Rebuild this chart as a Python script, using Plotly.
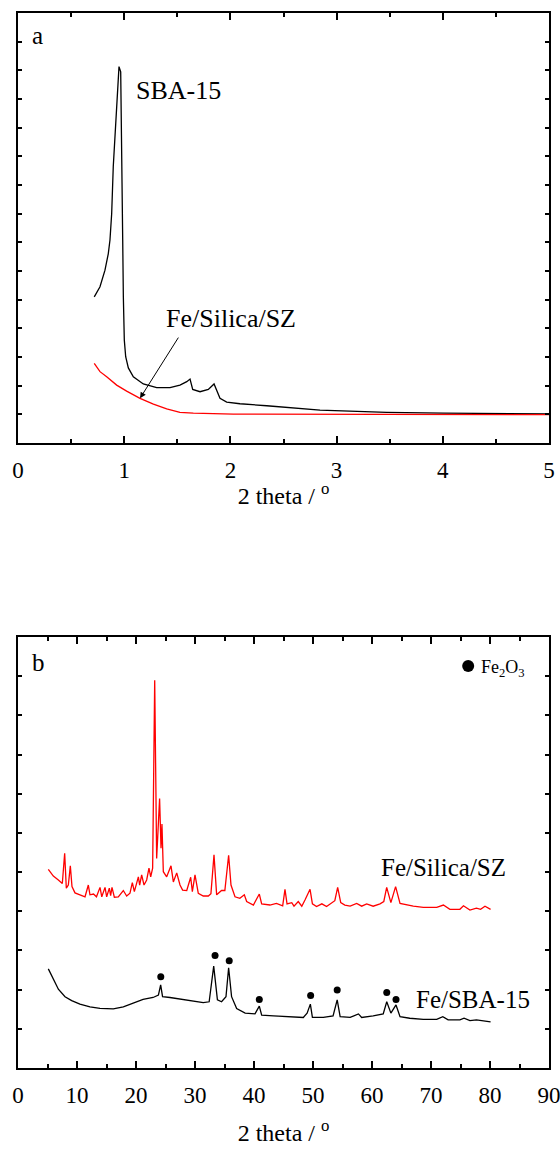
import plotly.graph_objects as go

FONT = "Times New Roman, Liberation Serif, DejaVu Serif, serif"

# ---------- Panel a (low-angle) ----------
sba_x = [0.718, 0.772, 0.819, 0.850, 0.866, 0.882, 0.897, 0.929, 0.944, 0.951, 0.967, 0.976, 0.986,
         0.992, 1.001, 1.014, 1.039, 1.086, 1.180, 1.306, 1.431, 1.525, 1.589, 1.620, 1.645,
         1.714, 1.792, 1.846, 1.871, 1.902, 1.965, 2.090, 2.342, 2.844, 3.472, 4.005, 5.0]
sba_y = [5.10, 5.45, 6.03, 6.60, 7.08, 8.00, 9.64, 11.96, 13.01, 13.13, 12.95, 10.81, 7.08,
         5.10, 3.59, 3.01, 2.62, 2.31, 2.06, 1.93, 1.93, 2.02, 2.14, 2.23, 1.87,
         1.79, 1.87, 2.06, 1.85, 1.56, 1.43, 1.37, 1.30, 1.15, 1.07, 1.04, 1.02]

fesz_low_x = [0.718, 0.772, 0.835, 0.929, 1.023, 1.149, 1.275, 1.400, 1.525, 1.651, 2.028, 3.0, 4.0, 5.0]
fesz_low_y = [2.78, 2.49, 2.31, 2.02, 1.81, 1.56, 1.36, 1.19, 1.07, 1.04, 1.01, 1.00, 0.99, 0.99]

# ---------- Panel b (wide-angle) ----------
fesz_x = [5.14, 5.99, 6.84, 7.51, 7.91, 8.19, 8.53, 8.87, 9.15, 9.66, 10.5, 11.36, 11.92, 12.2,
          12.8, 13.3, 13.9, 14.2, 14.75, 15.03, 15.48, 15.7, 15.93, 16.33, 17.0, 17.85, 18.42,
          18.98, 19.38, 19.72, 20.40, 20.62, 20.96, 21.36, 21.81, 22.2, 22.49, 22.82, 23.17,
          23.5, 24.0, 24.24, 24.4, 24.63, 25.2, 25.93, 26.33, 26.9, 27.46, 27.9, 28.6, 29.27,
          29.55, 30.0, 30.56, 31.4, 32.26, 32.7, 33.22, 33.67, 34.5, 35.06, 35.7, 36.1, 36.78,
          37.6, 38.36, 38.76, 39.9, 40.9, 41.3, 42.7, 43.8, 44.86, 45.25, 45.6, 46.4, 46.78,
          47.5, 48.1, 48.64, 49.5, 49.9, 50.6, 51.5, 52.3, 53.7, 54.18, 54.7, 55.4, 56.3, 57.4,
          58.25, 59.1, 60.2, 61.36, 62.0, 62.49, 63.2, 64.0, 64.75, 65.9, 67.0, 68.7, 70.97,
          72.1, 73.2, 74.9, 75.5, 76.6, 77.7, 78.4, 79.15, 80.1]
fesz_y = [5.07, 4.90, 4.80, 4.71, 5.48, 4.59, 4.67, 5.16, 4.63, 4.47, 4.42, 4.37, 4.67, 4.42,
          4.44, 4.37, 4.61, 4.37, 4.61, 4.37, 4.59, 4.40, 4.61, 4.36, 4.37, 4.53, 4.39,
          4.46, 4.73, 4.50, 4.88, 4.67, 4.93, 4.67, 4.80, 5.10, 4.88, 5.10, 9.90,
          5.35, 6.88, 5.61, 6.23, 5.01, 4.88, 5.16, 4.75, 4.98, 4.67, 4.54, 4.53, 4.87,
          4.50, 4.93, 4.46, 4.39, 4.39, 4.45, 5.44, 4.42, 4.53, 4.53, 5.43, 4.67, 4.37,
          4.33, 4.42, 4.25, 4.16, 4.44, 4.19, 4.16, 4.20, 4.14, 4.56, 4.19, 4.22, 4.13,
          4.25, 4.13, 4.29, 4.56, 4.19, 4.12, 4.19, 4.12, 4.27, 4.61, 4.22, 4.16, 4.13, 4.20,
          4.13, 4.19, 4.13, 4.19, 4.25, 4.61, 4.22, 4.63, 4.20, 4.16, 4.13, 4.10, 4.10,
          4.16, 4.05, 4.05, 4.14, 4.03, 4.08, 4.05, 4.13, 4.05]

fesba_x = [5.14, 5.99, 6.84, 7.97, 9.1, 10.5, 12.2, 13.9, 16.15, 17.85, 19.55, 21.2, 22.9, 23.8,
           24.18, 24.5, 25.76, 28.0, 29.7, 31.4, 32.4, 33.17, 33.8, 34.5, 35.25, 35.7, 36.2,
           37.06, 38.5, 40.17, 40.9, 41.3, 43.3, 46.1, 48.36, 49.0, 49.55, 49.9, 51.75, 53.4,
           54.1, 54.6, 56.3, 57.7, 58.25, 60.2, 61.9, 62.5, 63.2, 64.07, 64.75, 66.4, 68.7,
           70.97, 72.0, 72.9, 74.9, 75.6, 76.6, 77.7, 78.9, 80.1]
fesba_y = [2.53, 2.25, 2.01, 1.82, 1.72, 1.63, 1.56, 1.52, 1.51, 1.56, 1.65, 1.75, 1.80, 1.86,
           2.12, 1.82, 1.80, 1.75, 1.72, 1.67, 1.69, 2.60, 1.74, 1.69, 1.82, 2.56, 1.82,
           1.52, 1.40, 1.38, 1.58, 1.35, 1.33, 1.31, 1.29, 1.40, 1.63, 1.29, 1.29, 1.33,
           1.74, 1.31, 1.29, 1.38, 1.29, 1.33, 1.38, 1.69, 1.40, 1.61, 1.31, 1.27, 1.24,
           1.24, 1.31, 1.23, 1.23, 1.27, 1.21, 1.23, 1.21, 1.18]

fe2o3_x = [24.2, 33.4, 35.8, 40.9, 49.6, 54.1, 62.5, 64.07]
fe2o3_y = [2.33, 2.87, 2.74, 1.75, 1.85, 1.99, 1.93, 1.75]

xticks_a = [0, 1, 2, 3, 4, 5]
xticks_b = [0, 10, 20, 30, 40, 50, 60, 70, 80, 90]

fig = go.Figure()

fig.add_trace(go.Scatter(x=sba_x, y=sba_y, mode="lines", line=dict(color="black", width=1.3),
                         xaxis="x", yaxis="y", showlegend=False))
fig.add_trace(go.Scatter(x=fesz_low_x, y=fesz_low_y, mode="lines", line=dict(color="#ff0000", width=1.3),
                         xaxis="x", yaxis="y", showlegend=False))

fig.add_trace(go.Scatter(x=fesz_x, y=fesz_y, mode="lines", line=dict(color="#ff0000", width=1.3),
                         xaxis="x2", yaxis="y2", showlegend=False))
fig.add_trace(go.Scatter(x=fesba_x, y=fesba_y, mode="lines", line=dict(color="black", width=1.3),
                         xaxis="x2", yaxis="y2", showlegend=False))
fig.add_trace(go.Scatter(x=fe2o3_x, y=fe2o3_y, mode="markers", marker=dict(color="black", size=7),
                         xaxis="x2", yaxis="y2", showlegend=False))
fig.add_trace(go.Scatter(x=[76.3], y=[10.26], mode="markers", marker=dict(color="black", size=12),
                         xaxis="x2", yaxis="y2", showlegend=False))

axis_common = dict(showline=True, linecolor="black", linewidth=2, mirror="ticks",
                   ticks="inside", tickcolor="black", tickwidth=1.5, showgrid=False,
                   zeroline=False, automargin=False, ticklabeloverflow="allow",
                   tickfont=dict(family=FONT, size=23, color="black"))

fig.update_layout(
    template="none",
    width=560, height=1151,
    margin=dict(l=18, r=11, t=13, b=83),
    paper_bgcolor="white", plot_bgcolor="white",
    font=dict(family=FONT, color="black"),
    xaxis=dict(domain=[0, 1], anchor="y", range=[0, 5], tickvals=xticks_a, ticklen=7,
               minor=dict(dtick=0.5, ticks="inside", ticklen=4, tickcolor="black", tickwidth=1.5),
               ticklabelstandoff=5,
               title=dict(text="2 theta / <sup>o</sup>", font=dict(family=FONT, size=24), standoff=6),
               **axis_common),
    yaxis=dict(domain=[0.5924, 1.0], anchor="x", range=[0, 15], dtick=1, ticklen=4,
               showticklabels=False, **axis_common),
    xaxis2=dict(domain=[0, 1], anchor="y2", range=[0, 90], tickvals=xticks_b, ticklen=7,
                minor=dict(dtick=5, ticks="inside", ticklen=4, tickcolor="black", tickwidth=1.5),
                ticklabelstandoff=5,
                title=dict(text="2 theta / <sup>o</sup>", font=dict(family=FONT, size=24), standoff=18),
                **axis_common),
    yaxis2=dict(domain=[0, 0.4085], anchor="x2", range=[0, 11], dtick=1, ticklen=4,
                showticklabels=False, **axis_common),
)

ann = [
    dict(x=0.113, y=14.23, xref="x", yref="y", text="a", showarrow=False, xanchor="left",
         font=dict(family=FONT, size=25, color="black")),
    dict(x=1.507, y=12.31, xref="x", yref="y", text="SBA-15", showarrow=False,
         font=dict(family=FONT, size=26, color="black")),
    dict(x=2.006, y=4.36, xref="x", yref="y", text="Fe/Silica/SZ", showarrow=False,
         font=dict(family=FONT, size=26, color="black")),
    dict(x=1.149, y=1.56, ax=1.519, ay=3.73, xref="x", yref="y", axref="x", ayref="y",
         text="", showarrow=True, arrowhead=2, arrowsize=1.2, arrowwidth=1, arrowcolor="black"),
    dict(x=2.03, y=10.36, xref="x2", yref="y2", text="b", showarrow=False, xanchor="left",
         font=dict(family=FONT, size=25, color="black")),
    dict(x=78.1, y=10.2, xref="x2", yref="y2", text="Fe<sub>2</sub>O<sub>3</sub>", showarrow=False,
         xanchor="left", font=dict(family=FONT, size=18, color="black")),
    dict(x=72.1, y=5.13, xref="x2", yref="y2", text="Fe/Silica/SZ", showarrow=False,
         font=dict(family=FONT, size=25, color="black")),
    dict(x=77.2, y=1.76, xref="x2", yref="y2", text="Fe/SBA-15", showarrow=False,
         font=dict(family=FONT, size=25, color="black")),
]
fig.update_layout(annotations=ann)

fig.write_html("out.html")
